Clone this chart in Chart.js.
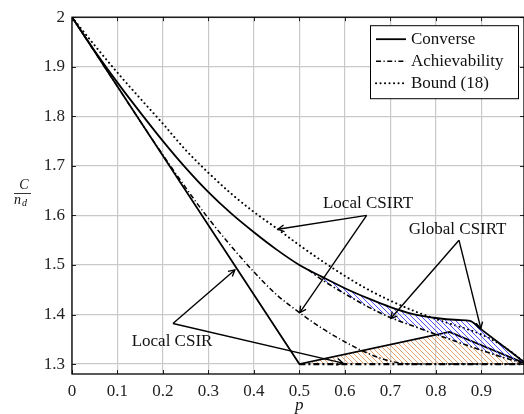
<!DOCTYPE html>
<html lang="en">
<head>
<meta charset="UTF-8">
<title>Normalised rate vs p</title>
<script src="https://cdn.jsdelivr.net/npm/chart.js"></script>
<style>
  html, body { margin: 0; padding: 0; background: #fff; }
  #wrap { width: 524px; height: 414px; }
</style>
</head>
<body>
<div id="wrap"><canvas id="myChart"></canvas></div>
<script>
// converse (global CSIRT), solid
const converseP = [0, 0.05, 0.1, 0.15, 0.2, 0.25, 0.3, 0.35, 0.4, 0.45, 0.5, 0.55, 0.6, 0.65, 0.7, 0.75, 0.8, 0.85, 0.875, 0.9, 0.95, 1];
const converseC = [2.000, 1.932, 1.868, 1.808, 1.750, 1.696, 1.647, 1.604, 1.566, 1.531, 1.500, 1.476, 1.453, 1.433, 1.415, 1.401, 1.393, 1.389, 1.387, 1.370, 1.335, 1.300];

// global CSIRT achievability, leaves the converse around p = 0.52
const globalAchP = [0.52, 0.55, 0.6, 0.65, 0.7, 0.75, 0.8, 0.85, 0.9, 0.95, 1];
const globalAchC = [1.490, 1.470, 1.442, 1.416, 1.394, 1.377, 1.360, 1.344, 1.328, 1.313, 1.300];

// local CSIRT achievability
const localAchP = [0, 0.05, 0.1, 0.15, 0.2, 0.25, 0.3, 0.35, 0.4, 0.45, 0.5, 0.55, 0.6, 0.65, 0.7, 0.75, 1];
const localAchC = [2.000, 1.930, 1.860, 1.790, 1.722, 1.656, 1.594, 1.538, 1.486, 1.440, 1.404, 1.372, 1.345, 1.322, 1.306, 1.300, 1.300];

// bound (18), dotted
const boundP = [0, 0.05, 0.1, 0.15, 0.2, 0.25, 0.3, 0.35, 0.4, 0.45, 0.5, 0.55, 0.6, 0.65, 0.7, 0.75, 0.8, 0.85, 0.9, 0.95, 1];
const boundC = [2.000, 1.943, 1.888, 1.836, 1.785, 1.732, 1.686, 1.644, 1.607, 1.574, 1.540, 1.508, 1.478, 1.451, 1.428, 1.408, 1.391, 1.376, 1.360, 1.335, 1.300];

// local CSIR converse and achievability
const csirP = [0, 0.5, 0.83, 1];
const csirC = [2.000, 1.300, 1.365, 1.300];
const csirAchP = [0.5, 1];
const csirAchC = [1.300, 1.300];

const xTicks = [0, 0.1, 0.2, 0.3, 0.4, 0.5, 0.6, 0.7, 0.8, 0.9];
const yTicks = [1.3, 1.4, 1.5, 1.6, 1.7, 1.8, 1.9, 2];

const legendNames = ['Converse', 'Achievability', 'Bound (18)'];

// callouts: label position, arrow origin, arrow tips (data coordinates)
const noteText = ['Local CSIRT', 'Global CSIRT', 'Local CSIR'];
const noteAt = [[0.651, 1.624], [0.848, 1.572], [0.220, 1.346]];
const noteFrom = [[0.648, 1.600], [0.851, 1.550], [0.222, 1.382]];
const noteTips = [
  [[0.453, 1.572], [0.501, 1.404]],
  [[0.701, 1.392], [0.899, 1.372]],
  [[0.358, 1.490], [0.596, 1.302]]
];

const FONT = 'Liberation Serif';

function pts(xs, ys) {
  return xs.map((x, i) => ({ x: x, y: ys[i] }));
}

function hatch(color) {
  const s = 5;
  const c = document.createElement('canvas');
  c.width = s; c.height = s;
  const g = c.getContext('2d');
  g.strokeStyle = color;
  g.lineWidth = 1;
  g.beginPath();
  for (const o of [-s, 0, s]) { g.moveTo(o, 0); g.lineTo(o + s, s); }
  g.stroke();
  return g.createPattern(c, 'repeat');
}

const DASHDOT = [5, 2.5, 1.2, 2.5];

const base = { pointRadius: 0, borderColor: '#000', tension: 0, fill: false };

const datasets = [
  Object.assign({}, base, { label: 'Converse', data: pts(converseP, converseC), borderWidth: 1.8, cubicInterpolationMode: 'monotone' }),
  Object.assign({}, base, { label: 'Global CSIRT achievability', data: pts(globalAchP, globalAchC), borderWidth: 1.6, borderDash: [5, 2.5, 1.5, 2.5],
    cubicInterpolationMode: 'monotone', fill: { target: 0 }, backgroundColor: hatch('rgb(80,80,250)') }),
  Object.assign({}, base, { label: 'Achievability', data: pts(localAchP, localAchC), borderWidth: 1.5, borderDash: DASHDOT, cubicInterpolationMode: 'monotone' }),
  Object.assign({}, base, { label: 'Bound (18)', data: pts(boundP, boundC), borderWidth: 2, borderDash: [0.1, 4.4], borderCapStyle: 'round', cubicInterpolationMode: 'monotone' }),
  Object.assign({}, base, { label: 'Local CSIR converse', data: pts(csirP, csirC), borderWidth: 1.8 }),
  Object.assign({}, base, { label: 'Local CSIR achievability', data: pts(csirAchP, csirAchC), borderWidth: 2.2, borderDash: [6, 3, 2, 3],
    fill: { target: 4 }, backgroundColor: hatch('rgba(225,150,95,0.9)') })
];

// which datasets are shown in the legend box
const legendSets = [0, 2, 3];

function arrow(ctx, x0, y0, x1, y1) {
  ctx.beginPath();
  ctx.moveTo(x0, y0);
  ctx.lineTo(x1, y1);
  ctx.stroke();
  const a = Math.atan2(y1 - y0, x1 - x0);
  const L = 7, w = 0.5;
  ctx.beginPath();
  ctx.moveTo(x1 - L * Math.cos(a - w), y1 - L * Math.sin(a - w));
  ctx.lineTo(x1, y1);
  ctx.lineTo(x1 - L * Math.cos(a + w), y1 - L * Math.sin(a + w));
  ctx.stroke();
}

const decor = {
  id: 'decor',
  afterDraw(chart) {
    const { ctx, chartArea: a, scales: { x, y } } = chart;
    ctx.save();

    // inward tick marks on all four sides
    ctx.strokeStyle = '#222';
    ctx.lineWidth = 1;
    ctx.beginPath();
    xTicks.forEach(v => {
      const px = Math.round(x.getPixelForValue(v)) + 0.5;
      ctx.moveTo(px, a.bottom); ctx.lineTo(px, a.bottom - 4);
      ctx.moveTo(px, a.top); ctx.lineTo(px, a.top + 4);
    });
    yTicks.forEach(v => {
      const py = Math.round(y.getPixelForValue(v)) + 0.5;
      ctx.moveTo(a.left, py); ctx.lineTo(a.left + 4, py);
      ctx.moveTo(a.right, py); ctx.lineTo(a.right - 4, py);
    });
    ctx.stroke();

    // frame
    ctx.strokeStyle = '#000';
    ctx.lineWidth = 1.3;
    ctx.strokeRect(a.left, a.top, a.width, a.height);

    // callouts
    ctx.lineWidth = 1.4;
    ctx.strokeStyle = '#000';
    ctx.fillStyle = '#111';
    ctx.font = '17px "' + FONT + '"';
    ctx.textAlign = 'center';
    ctx.textBaseline = 'middle';
    noteText.forEach((t, i) => {
      ctx.fillText(t, x.getPixelForValue(noteAt[i][0]), y.getPixelForValue(noteAt[i][1]));
      const fx = x.getPixelForValue(noteFrom[i][0]);
      const fy = y.getPixelForValue(noteFrom[i][1]);
      noteTips[i].forEach(tp => arrow(ctx, fx, fy, x.getPixelForValue(tp[0]), y.getPixelForValue(tp[1])));
    });

    // legend box
    const bx = a.right - 154, by = a.top + 8, bw = 148, bh = 73;
    ctx.fillStyle = '#fff';
    ctx.fillRect(bx, by, bw, bh);
    ctx.lineWidth = 1;
    ctx.strokeStyle = '#000';
    ctx.strokeRect(bx + 0.5, by + 0.5, bw, bh);
    ctx.textAlign = 'left';
    legendSets.forEach((di, k) => {
      const ds = chart.data.datasets[di];
      const ly = by + 14 + k * 22;
      ctx.save();
      ctx.strokeStyle = '#000';
      ctx.lineWidth = ds.borderWidth;
      ctx.lineCap = ds.borderCapStyle || 'butt';
      ctx.setLineDash(ds.borderDash || []);
      ctx.beginPath();
      ctx.moveTo(bx + 6, ly); ctx.lineTo(bx + 36, ly);
      ctx.stroke();
      ctx.restore();
      ctx.fillStyle = '#111';
      ctx.fillText(legendNames[k], bx + 41, ly);
    });

    // y-axis title C / n_d
    ctx.fillStyle = '#111';
    ctx.textAlign = 'center';
    ctx.font = 'italic 14px "' + FONT + '"';
    ctx.fillText('C', 24, 185);
    ctx.lineWidth = 0.8;
    ctx.beginPath(); ctx.moveTo(14, 193.5); ctx.lineTo(31, 193.5); ctx.stroke();
    ctx.textAlign = 'left';
    ctx.fillText('n', 14, 200);
    ctx.font = 'italic 10px "' + FONT + '"';
    ctx.fillText('d', 22, 203);

    // x-axis title
    ctx.textAlign = 'center';
    ctx.font = 'italic 17px "' + FONT + '"';
    ctx.fillText('p', x.getPixelForValue(0.5), 406);
    ctx.restore();
  }
};

const ctx = document.getElementById('myChart').getContext('2d');
new Chart(ctx, {
  type: 'line',
  data: { datasets: datasets },
  options: {
    responsive: true,
    maintainAspectRatio: false,
    animation: false,
    layout: { padding: { top: 15, right: 0, left: 0, bottom: 0 } },
    plugins: { legend: { display: false }, tooltip: { enabled: false } },
    scales: {
      x: {
        type: 'linear',
        min: 0,
        max: 0.994,
        afterBuildTicks: s => { s.ticks = xTicks.map(v => ({ value: v })); },
        afterFit: s => { s.height = 40; },
        grid: { color: '#c9c9c9', lineWidth: 1.2, drawTicks: false },
        border: { display: false },
        ticks: { padding: 7, maxRotation: 0, color: '#222', font: { family: FONT, size: 17 }, callback: v => String(v) }
      },
      y: {
        type: 'linear',
        min: 1.28,
        max: 2,
        afterBuildTicks: s => { s.ticks = yTicks.map(v => ({ value: v })); },
        afterFit: s => { s.width = 72; },
        grid: { color: '#c9c9c9', lineWidth: 1.2, drawTicks: false },
        border: { display: false },
        ticks: { padding: 7, color: '#222', font: { family: FONT, size: 17 }, callback: v => String(v) }
      }
    }
  },
  plugins: [decor]
});
</script>
</body>
</html>
